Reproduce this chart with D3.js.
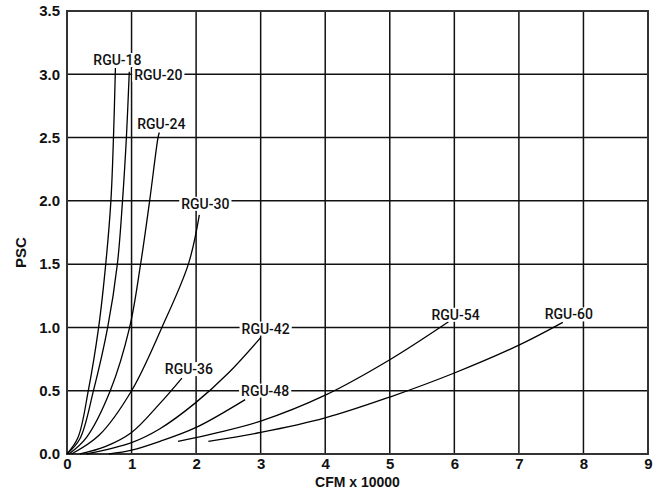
<!DOCTYPE html>
<html>
<head>
<meta charset="utf-8">
<script src="https://cdn.jsdelivr.net/npm/d3@7"></script>
<style>
  body{margin:0;background:#fff;}
  svg{display:block;}
</style>
</head>
<body>
<div id="chart"></div>
<script>
// fan curves (x = CFM x 10000, y = PSC)
var names=['RGU-18','RGU-20','RGU-24','RGU-30','RGU-36','RGU-42','RGU-48','RGU-54','RGU-60'];
var rgu18=[[0,0],[0.17,0.13],[0.33,0.5],[0.49,1.0],[0.60,1.5],[0.68,2.0],[0.72,2.5],[0.75,3.05]];
var rgu20=[[0,0],[0.2,0.12],[0.41,0.5],[0.63,1.0],[0.78,1.5],[0.86,2.0],[0.92,2.5],[0.965,3.02]];
var rgu24=[[0.03,0],[0.3,0.13],[0.67,0.5],[0.97,1.0],[1.14,1.5],[1.28,2.0],[1.41,2.5],[1.43,2.54]];
var rgu30=[[0.07,0],[0.5,0.15],[1.0,0.5],[1.47,1.0],[1.88,1.5],[2.05,1.89]];
var rgu36=[[0.2,0],[0.6,0.06],[1.0,0.17],[1.44,0.40],[1.78,0.60]];
var rgu42=[[0.3,0],[1.0,0.09],[1.44,0.20],[1.98,0.40],[2.5,0.64],[3.0,0.92]];
var rgu48=[[0.65,0],[1.0,0.03],[1.44,0.10],[2.0,0.21],[2.76,0.43]];
var rgu54=[[1.72,0.10],[2.3,0.165],[3.0,0.26],[4.0,0.465],[5.0,0.745],[5.91,1.045]];
var rgu60=[[2.19,0.10],[3.0,0.17],[4.0,0.285],[5.0,0.45],[6.0,0.64],[7.0,0.86],[7.68,1.04]];
var series=[rgu18,rgu20,rgu24,rgu30,rgu36,rgu42,rgu48,rgu54,rgu60];

var xTicks=[0,1,2,3,4,5,6,7,8,9];
var yTicks=[0,0.5,1,1.5,2,2.5,3,3.5];

// label centre, offset in px from the curve's end
var labelDx=[2,29,2,6,7,5,20,7,6];
var labelDy=[-8,3,-9,-11,-9,-9,-9,-7,-8];

var width=663, height=491;
var margin={left:67,right:15,top:11,bottom:37};

var svg=d3.select('#chart').append('svg')
  .attr('width',width)
  .attr('height',height);

var x=d3.scaleLinear().domain([0,9]).range([margin.left,width-margin.right]);
var y=d3.scaleLinear().domain([0,3.5]).range([height-margin.bottom,margin.top]);

// grid
svg.append('g').selectAll('line.v')
  .data(xTicks.slice(1,-1))
  .enter().append('line')
  .attr('x1',function(d){return x(d);})
  .attr('x2',function(d){return x(d);})
  .attr('y1',y(0)).attr('y2',y(3.5))
  .attr('stroke','#111').attr('stroke-width',1.5);
svg.append('g').selectAll('line.h')
  .data(yTicks.slice(1,-1))
  .enter().append('line')
  .attr('x1',x(0)).attr('x2',x(9))
  .attr('y1',function(d){return y(d);})
  .attr('y2',function(d){return y(d);})
  .attr('stroke','#111').attr('stroke-width',1.5);

// frame
svg.append('rect')
  .attr('x',x(0)).attr('y',y(3.5))
  .attr('width',x(9)-x(0)).attr('height',y(0)-y(3.5))
  .attr('fill','none').attr('stroke','#333').attr('stroke-width',2);

// axes (labels only)
var xAxis=d3.axisBottom(x).tickValues(xTicks).tickSize(0).tickPadding(4).tickFormat(d3.format('d'));
var yAxis=d3.axisLeft(y).tickValues(yTicks).tickSize(0).tickPadding(7).tickFormat(d3.format('.1f'));
var gx=svg.append('g').attr('transform','translate(0,'+y(0)+')').call(xAxis);
var gy=svg.append('g').attr('transform','translate('+x(0)+',0)').call(yAxis);
[gx,gy].forEach(function(g){
  g.select('.domain').remove();
  g.selectAll('text')
    .attr('fill','#111')
    .style('font-family','"Liberation Sans", Arial, sans-serif')
    .style('font-weight','bold')
    .style('font-size','15px');
});

svg.append('text')
  .attr('x',(x(0)+x(9))/2).attr('y',height-4)
  .attr('text-anchor','middle')
  .attr('fill','#111')
  .style('font-family','"Liberation Sans", Arial, sans-serif')
  .style('font-weight','bold').style('font-size','14px')
  .text('CFM x 10000');

svg.append('text')
  .attr('transform','translate(26,'+((y(0)+y(3.5))/2+20)+') rotate(-90)')
  .attr('text-anchor','middle')
  .attr('fill','#111')
  .style('font-family','"Liberation Sans", Arial, sans-serif')
  .style('font-weight','bold').style('font-size','15px')
  .text('PSC');

// curves
var line=d3.line()
  .x(function(d){return x(d[0]);})
  .y(function(d){return y(d[1]);})
  .curve(d3.curveCatmullRom.alpha(0.5));

svg.append('g').selectAll('path')
  .data(series)
  .enter().append('path')
  .attr('d',line)
  .attr('fill','none')
  .attr('stroke','#000')
  .attr('stroke-width',1.3);

// curve labels with white backing
var labels=svg.append('g').selectAll('g')
  .data(names)
  .enter().append('g')
  .attr('transform',function(d,i){
    var last=series[i][series[i].length-1];
    return 'translate('+(x(last[0])+labelDx[i])+','+(y(last[1])+labelDy[i])+')';
  });
labels.append('text')
  .attr('text-anchor','middle')
  .attr('dy','0.36em')
  .attr('fill','#111')
  .style('font-family','Roboto, "Liberation Sans", sans-serif')
  .style('font-weight','500')
  .style('font-size','14px')
  .text(function(d){return d;});
labels.each(function(){
  var g=d3.select(this);
  var b=g.select('text').node().getBBox();
  g.insert('rect','text')
    .attr('x',b.x-2).attr('y',b.y+1)
    .attr('width',b.width+4).attr('height',b.height-2)
    .attr('fill','#fff');
});
</script>
</body>
</html>
